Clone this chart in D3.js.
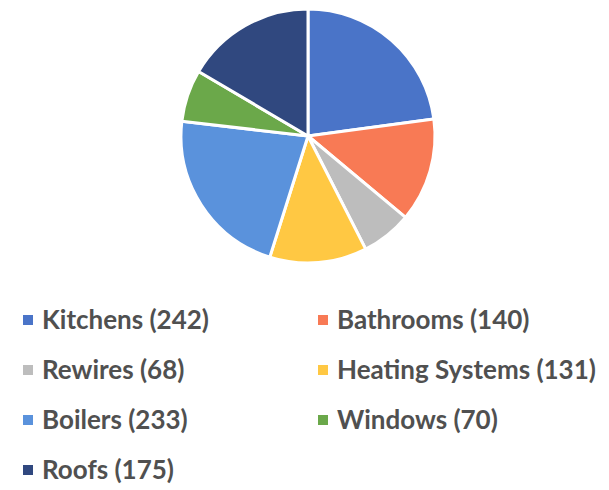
<!DOCTYPE html>
<html>
<head>
<meta charset="utf-8">
<script src="https://cdn.jsdelivr.net/npm/d3@7"></script>
<style>
  body { margin: 0; background: #fff; }
  svg { display: block; }
</style>
</head>
<body>
<svg width="609" height="490"></svg>
<script>
const categories = ['Kitchens', 'Bathrooms', 'Rewires', 'Heating Systems', 'Boilers', 'Windows', 'Roofs'];
const values = [242, 140, 68, 131, 233, 70, 175];
const colors = ['#4A74C8', '#F87A55', '#BDBDBD', '#FFC843', '#5A92DC', '#6BA84A', '#30487F'];

const svg = d3.select('svg');
const center = {x: 308, y: 136};
const radius = 127;

const pie = d3.pie().sort(null).value(d => d.value);
const arc = d3.arc().innerRadius(0).outerRadius(radius);

const data = categories.map((c, i) => ({name: c, value: values[i], color: colors[i]}));

svg.append('g')
  .attr('transform', `translate(${center.x}, ${center.y})`)
  .selectAll('path')
  .data(pie(data))
  .join('path')
  .attr('d', arc)
  .attr('fill', d => d.data.color)
  .attr('stroke', '#fff')
  .attr('stroke-width', 3)
  .attr('stroke-linejoin', 'round');

// legend: two columns, row-major order
const legend = svg.append('g');
const colX = [23, 318];
const rowY = d3.range(4).map(i => 320 + i * 50);

const item = legend.selectAll('g')
  .data(data)
  .join('g')
  .attr('transform', (d, i) => `translate(${colX[i % 2]}, ${rowY[Math.floor(i / 2)]})`);

item.append('rect')
  .attr('x', 0)
  .attr('y', -5)
  .attr('width', 10)
  .attr('height', 10)
  .attr('fill', d => d.color);

item.append('text')
  .attr('x', 19)
  .attr('y', 9)
  .attr('font-family', 'Lato, sans-serif')
  .attr('font-weight', 'bold')
  .attr('font-size', 26)
  .attr('fill', '#505050')
  .text(d => `${d.name} (${d.value})`);
</script>
</body>
</html>
